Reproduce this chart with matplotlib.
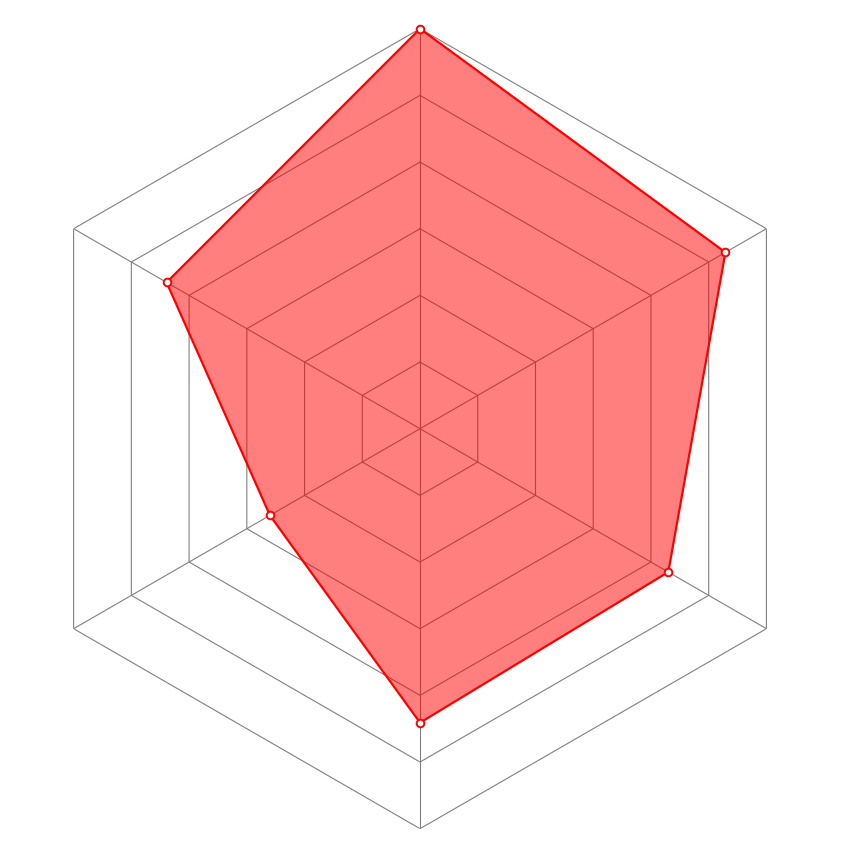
import numpy as np
import matplotlib
matplotlib.use("Agg")
import matplotlib.pyplot as plt

categories = ["A", "B", "C", "D", "E", "F"]
values = [6.0, 5.29, 4.30, 4.41, 2.60, 4.39]
levels = [1, 2, 3, 4, 5, 6]

n = len(categories)
angles = np.linspace(0, 2 * np.pi, n, endpoint=False)

fig = plt.figure(figsize=(8.6, 8.6), dpi=100)
ax = fig.add_axes([0.0233, 0.0364, 0.9302, 0.9302], projection="polar")
ax.set_theta_zero_location("N")
ax.set_theta_direction(-1)
ax.set_ylim(0, levels[-1])
ax.grid(False)
ax.spines["polar"].set_visible(False)
ax.set_xticks([])
ax.set_yticks([])
ax.patch.set_alpha(0)

closed_angles = np.append(angles, angles[0])
for lv in levels:
    ax.plot(closed_angles, [lv] * (n + 1), color="#808080", lw=0.8, zorder=1)
for a in angles:
    ax.plot([a, a], [0, levels[-1]], color="#808080", lw=0.8, zorder=1)

vals = np.append(values, values[0])
ax.fill(closed_angles, vals, color="#ff0000", alpha=0.5, lw=0, zorder=2)
ax.plot(closed_angles, vals, color="#ff0000", lw=1.6, zorder=3)
ax.plot(angles, values, ls="none", marker="o", ms=5.5, mfc="white",
        mec="#ff0000", mew=1.4, zorder=4, clip_on=False)

fig.savefig("out.png", dpi=100)
